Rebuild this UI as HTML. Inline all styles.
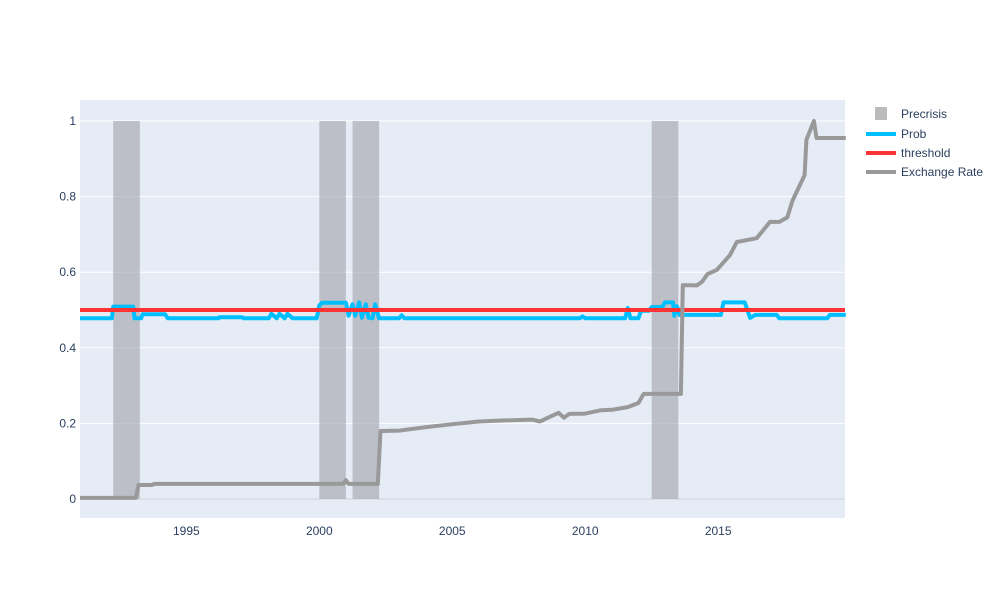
<!DOCTYPE html>
<html><head><meta charset="utf-8"><style>
body{margin:0;background:#fff;font-family:"Liberation Sans",sans-serif}
svg text{font-family:"Liberation Sans",sans-serif;fill:#2a3f5f;font-size:12px}
</style></head><body>
<svg id="chart" width="1000" height="600">
<rect x="80" y="100" width="765" height="418" fill="#e5ecf6"/>
<g id="grid"></g><g id="bars"></g><g id="lines"></g><g id="axes"></g>
<g>
<rect x="875" y="107" width="12" height="13" fill="#bbb"/>
<text x="901" y="118">Precrisis</text>
<line x1="866" x2="896" y1="134" y2="134" stroke="#00bfff" stroke-width="4"/>
<text x="901" y="138">Prob</text>
<line x1="866" x2="896" y1="153" y2="153" stroke="#ff3333" stroke-width="4"/>
<text x="901" y="157">threshold</text>
<line x1="866" x2="896" y1="172" y2="172" stroke="#999" stroke-width="4"/>
<text x="901" y="176">Exchange Rate</text>
</g>
</svg>
<script>
const yTicks=[0,0.2,0.4,0.6,0.8,1];
const xTicks=[1995,2000,2005,2010,2015];
const crisisStart=[1992.25,2000,2001.25,2012.5];
const crisisEnd=[1993.25,2001,2002.25,2013.5];
const threshold=0.5;
const probX=[1991,1992.2,1992.25,1993.0,1993.05,1993.3,1993.35,1994.2,1994.3,1996.2,1996.25,1997.1,1997.15,1998.1,1998.2,1998.4,1998.5,1998.7,1998.8,1999.0,1999.1,1999.9,2000.0,2000.1,2001.0,2001.1,2001.25,2001.35,2001.5,2001.6,2001.75,2001.85,2002.0,2002.1,2002.25,2003.0,2003.1,2003.2,2009.8,2009.9,2010.0,2011.5,2011.6,2011.7,2012.0,2012.1,2012.4,2012.5,2012.9,2013.0,2013.3,2013.35,2013.45,2013.55,2013.7,2015.1,2015.2,2016.0,2016.2,2016.4,2017.2,2017.3,2019.1,2019.2,2019.8];
const probY=[0.478,0.478,0.509,0.509,0.478,0.478,0.489,0.489,0.478,0.478,0.481,0.481,0.478,0.478,0.49,0.478,0.49,0.478,0.49,0.478,0.478,0.478,0.512,0.519,0.519,0.485,0.515,0.485,0.52,0.48,0.515,0.48,0.478,0.515,0.478,0.478,0.486,0.478,0.478,0.483,0.478,0.478,0.505,0.478,0.478,0.498,0.498,0.508,0.508,0.52,0.52,0.485,0.51,0.487,0.487,0.487,0.52,0.52,0.479,0.487,0.487,0.478,0.478,0.487,0.487];
const exX=[1991,1993.1,1993.2,1993.7,1993.8,2000.9,2001.0,2001.1,2002.2,2002.3,2003.0,2004.0,2005.0,2006.0,2007.0,2008.0,2008.3,2008.6,2009.0,2009.2,2009.4,2010.0,2010.6,2011.0,2011.6,2012.0,2012.2,2013.6,2013.67,2014.2,2014.4,2014.6,2014.95,2015.44,2015.7,2016.45,2016.95,2017.3,2017.6,2017.8,2018.25,2018.32,2018.6,2018.7,2019.8];
const exY=[0.003,0.003,0.037,0.037,0.04,0.04,0.05,0.04,0.04,0.18,0.181,0.19,0.198,0.205,0.208,0.21,0.205,0.215,0.228,0.215,0.225,0.226,0.235,0.236,0.243,0.254,0.278,0.278,0.566,0.565,0.575,0.595,0.606,0.645,0.68,0.69,0.733,0.733,0.745,0.79,0.857,0.95,1.0,0.955,0.955];
const X0=1991,X1=2019.77,PX0=80,PX1=845;
const xs=v=>PX0+(v-X0)/(X1-X0)*(PX1-PX0);
const ys=v=>499-v*378;
const NS="http://www.w3.org/2000/svg";
function mk(tag,attrs,parent){const e=document.createElementNS(NS,tag);for(const k in attrs)e.setAttribute(k,attrs[k]);document.getElementById(parent).appendChild(e);return e;}
yTicks.forEach(t=>{
 const l=mk('line',{x1:PX0,x2:PX1,y1:ys(t),y2:ys(t),stroke:t===0?'#d0d4da':'#fff','stroke-width':1},'grid');
 
 
 const tx=mk('text',{x:76,y:ys(t)+4,'text-anchor':'end'},'axes');tx.textContent=String(t);
 
 
});
xTicks.forEach(t=>{
 const tx=mk('text',{x:xs(t),y:535,'text-anchor':'middle'},'axes');tx.textContent=String(t);
 
 
});
crisisStart.forEach((s,i)=>{
 const r=mk('rect',{x:xs(s),y:ys(1),width:xs(crisisEnd[i])-xs(s),height:ys(0)-ys(1),fill:'rgba(160,162,168,0.6)'},'bars');
 
 
});
function path(xa,ya){return xa.map((x,i)=>(i?'L':'M')+xs(x).toFixed(1)+','+ys(ya[i]).toFixed(1)).join('');}
const p1=mk('path',{d:path(probX,probY),fill:'none',stroke:'#00bfff','stroke-width':4,'stroke-linejoin':'round'},'lines');


const p2=mk('path',{d:path([X0,X1],[threshold,threshold]),fill:'none',stroke:'#ff3333','stroke-width':4},'lines');


const p3=mk('path',{d:path(exX,exY),fill:'none',stroke:'#999','stroke-width':4,'stroke-linejoin':'round'},'lines');


</script>
</body></html>
